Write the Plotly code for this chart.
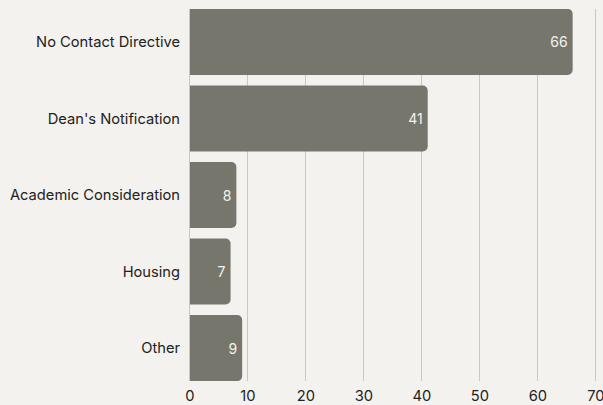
import plotly.graph_objects as go

categories = ["No Contact Directive", "Dean's Notification", "Academic Consideration", "Housing", "Other"]
values = [66, 41, 8, 7, 9]
x_ticks = [0, 10, 20, 30, 40, 50, 60, 70]

bg = "#f4f2ee"
bar_color = "#77766c"

fig = go.Figure(go.Bar(
    y=categories,
    x=values,
    orientation="h",
    marker=dict(color=bar_color, line=dict(width=0)),
    text=[str(v) for v in values],
    textposition="inside",
    insidetextanchor="end",
    textfont=dict(color="#f4f2ee", size=14, family="Inter"),
    hoverinfo="x+y",
))

fig.update_layout(
    width=603, height=405,
    paper_bgcolor=bg, plot_bgcolor=bg,
    margin=dict(l=190, r=6, t=9, b=24),
    bargap=0.137,
    barcornerradius=5,
    font=dict(family="Inter", size=14.7, color="#222222"),
    showlegend=False,
    xaxis=dict(
        range=[0, 70.2],
        tickvals=x_ticks,
        showgrid=True, gridcolor="#c9c7c1", gridwidth=1,
        zeroline=False, showline=False,
        tickfont=dict(size=14.7, color="#222222"),
        ticklabeloverflow="allow",
        ticklabelstandoff=4,
        automargin=False,
        fixedrange=True,
    ),
    yaxis=dict(
        categoryorder="array", categoryarray=categories,
        autorange=False, range=[4.43, -0.43],
        showgrid=False, zeroline=False,
        showline=True, linecolor="#c9c7c1", linewidth=1,
        ticks="", ticklabelstandoff=6,
        tickfont=dict(size=14.7, color="#222222"),
        automargin=False,
        fixedrange=True,
    ),
)

fig.write_html(
    "out.html",
    config={"displayModeBar": False},
    post_script="document.body.style.margin='0';document.body.style.overflow='hidden';",
)
